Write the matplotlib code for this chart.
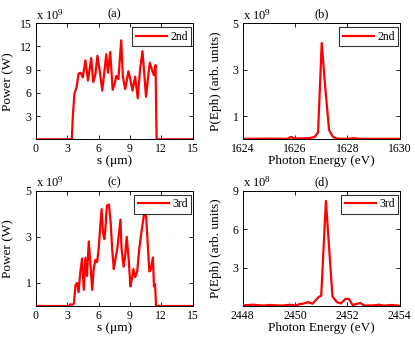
import matplotlib
matplotlib.use("Agg")
import matplotlib.pyplot as plt

plt.rcParams['font.family'] = ['Liberation Serif', 'DejaVu Serif']
plt.rcParams['mathtext.fontset'] = 'stix'

# Panel (a): 2nd harmonic power vs s (units of 1e9 W)
s_a = [0, 3.45, 3.55, 3.7, 3.9, 4.1, 4.3, 4.5, 4.75, 5.0, 5.3, 5.5, 5.7, 5.9, 6.1, 6.36,
       6.6, 6.74, 6.9, 7.12, 7.35, 7.55, 7.7, 7.9, 8.17, 8.33, 8.55, 8.86, 9.0, 9.25, 9.5,
       9.75, 9.97, 10.2, 10.4, 10.54, 10.8, 10.9, 11.15, 11.3, 11.45, 11.55, 15]
p_a = [0, 0, 3.0, 5.9, 6.7, 8.5, 8.6, 8.0, 10.2, 7.6, 10.5, 7.4, 8.4, 10.8, 9.0, 6.3,
       9.2, 11.0, 8.6, 11.3, 6.4, 7.2, 8.2, 7.8, 12.8, 8.1, 6.5, 8.8, 8.0, 6.3, 8.1,
       5.3, 9.0, 11.4, 8.0, 5.5, 8.8, 9.9, 8.8, 8.3, 9.6, 0, 0]

# Panel (b): 2nd harmonic spectrum (units of 1e9)
e_b = [1624.0, 1625.0, 1625.7, 1625.85, 1626.0, 1626.3, 1626.55, 1626.75, 1626.88, 1627.02,
       1627.15, 1627.3, 1627.45, 1627.6, 1628.0, 1628.25, 1628.5, 1629.0, 1630.0]
p_b = [0.02, 0.03, 0.02, 0.1, 0.03, 0.04, 0.05, 0.1, 0.3, 4.15,
       2.3, 0.4, 0.1, 0.03, 0.02, 0.05, 0.02, 0.02, 0.02]

# Panel (c): 3rd harmonic power vs s (units of 1e9 W)
s_c = [0, 3.2, 3.3, 3.5, 3.65, 3.8, 3.96, 4.1, 4.27, 4.43, 4.59, 4.75, 4.9, 5.07, 5.23, 5.4,
       5.54, 5.7, 5.87, 6.02, 6.17, 6.3, 6.43, 6.56, 6.65, 6.8, 7.0, 7.17, 7.3, 7.46, 7.6,
       7.8, 8.1, 8.2, 8.4, 8.55, 8.7, 8.87, 9.05, 9.2, 9.33, 9.5, 9.7, 9.9, 10.1, 10.35,
       10.55, 10.7, 10.86, 11.0, 11.2, 11.3, 11.4, 11.5, 15]
p_c = [0, 0, 0.08, 0.05, 0.1, 0.9, 1.0, 0.6, 1.5, 2.06, 0.7, 2.1, 1.3, 2.8, 1.8, 0.7,
       1.6, 2.0, 1.9, 2.5, 3.5, 4.2, 3.2, 2.9, 3.3, 4.35, 4.4, 3.6, 2.5, 1.6, 2.0,
       2.5, 3.75, 2.5, 1.7, 2.2, 3.0, 2.1, 0.85, 1.2, 1.6, 1.25, 1.5, 2.5, 3.2, 3.97,
       3.9, 2.7, 1.5, 1.6, 2.1, 0.85, 0.95, 0, 0]

# Panel (d): 3rd harmonic spectrum (units of 1e8)
e_d = [2448.0, 2448.4, 2448.8, 2449.0, 2449.5, 2449.8, 2450.0, 2450.2, 2450.35, 2450.5,
       2450.67, 2450.9, 2451.0, 2451.18, 2451.43, 2451.6, 2451.75, 2451.93, 2452.06, 2452.2,
       2452.5, 2452.65, 2453.0, 2453.2, 2453.4, 2453.7, 2454.0]
p_d = [0.05, 0.1, 0.03, 0.08, 0.03, 0.1, 0.05, 0.15, 0.2, 0.3,
       0.18, 0.7, 0.8, 8.2, 0.75, 0.3, 0.2, 0.56, 0.55, 0.08,
       0.23, 0.03, 0.05, 0.1, 0.03, 0.08, 0.02]

fig = plt.figure(figsize=(4.15, 3.4), dpi=100)
W, H = 415, 340

def make_ax(l, t, r, b):
    return fig.add_axes([l / W, 1 - b / H, (r - l) / W, (b - t) / H])

axa = make_ax(35.7, 23.3, 192.7, 139.3)
axb = make_ax(242.7, 23.3, 399.7, 139.3)
axc = make_ax(35.7, 190.7, 192.7, 306.0)
axd = make_ax(242.7, 190.7, 399.7, 306.0)

fs = 8.5
fl = 9.5

def style(ax, x, y, label, title, exp, xlim, xticks, ylim, yticks, xlabel, ylabel):
    ax.plot(x, y, color='red', lw=1.6, label=label, zorder=3)
    ax.set_xlim(*xlim)
    ax.set_ylim(*ylim)
    ax.set_xticks(xticks)
    ax.set_yticks(yticks)
    ax.set_yticklabels([f"{v:g}" for v in yticks])
    ax.tick_params(direction='in', length=3, width=0.6, top=True, right=True,
                   labelsize=fs, pad=3)
    for sp in ax.spines.values():
        sp.set_linewidth(0.7)
    ax.set_xlabel(xlabel, fontsize=fl, labelpad=0)
    ax.set_ylabel(ylabel, fontsize=fl)
    ax.yaxis.set_label_coords(-0.135, 0.5)
    ax.set_title(title, fontsize=fs + 0.5, pad=4)
    ax.text(0.0, 1.01, r'$\mathregular{x\ 10^{%d}}$' % exp, transform=ax.transAxes,
            ha='left', va='bottom', fontsize=fs + 0.5)
    leg = ax.legend(loc='upper right', bbox_to_anchor=(0.99, 0.965), borderaxespad=0,
                    fontsize=fs, frameon=True, fancybox=False, handlelength=2.6,
                    handletextpad=0.3, borderpad=0.3)
    leg.get_frame().set_edgecolor('black')
    leg.get_frame().set_linewidth(0.8)

style(axa, s_a, p_a, '2nd', '(a)', 9, (0, 15), [0, 3, 6, 9, 12, 15], (0, 15),
      [3, 6, 9, 12, 15], 's (\u03bcm)', 'Power (W)')
style(axb, e_b, p_b, '2nd', '(b)', 9, (1624, 1630), [1624, 1626, 1628, 1630], (0, 5),
      [1, 3, 5], 'Photon Energy (eV)', 'P(Eph) (arb. units)')
style(axc, s_c, p_c, '3rd', '(c)', 9, (0, 15), [0, 3, 6, 9, 12, 15], (0, 5),
      [1, 3, 5], 's (\u03bcm)', 'Power (W)')
style(axd, e_d, p_d, '3rd', '(d)', 8, (2448, 2454), [2448, 2450, 2452, 2454], (0, 9),
      [3, 6, 9], 'Photon Energy (eV)', 'P(Eph) (arb. units)')

fig.savefig('out.png', dpi=100)
